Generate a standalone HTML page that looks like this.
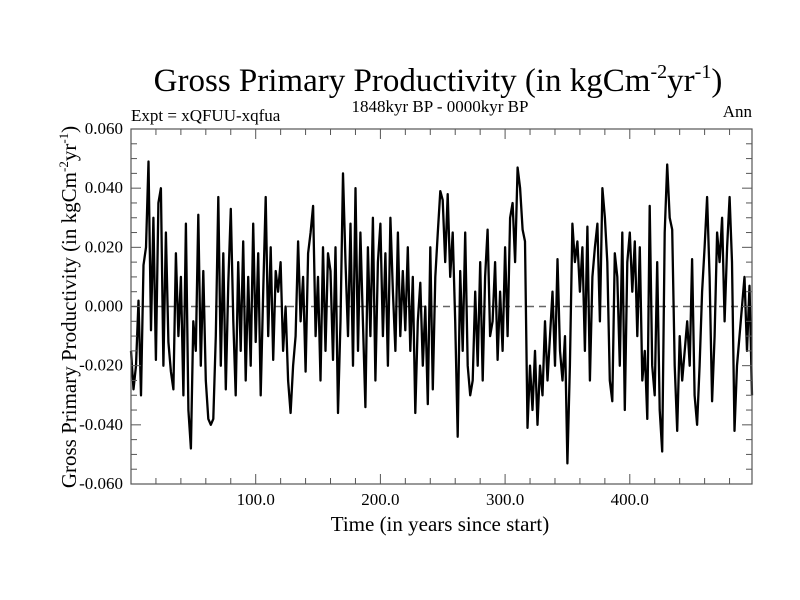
<!DOCTYPE html>
<html><head><meta charset="utf-8"><style>
body{margin:0;background:#fff}
svg{display:block;font-family:"Liberation Serif",serif}
</style></head><body>
<svg id="chart" width="800" height="600">
<text x="438" y="91" text-anchor="middle" font-size="33">Gross Primary Productivity (in kgCm<tspan dy="-13" font-size="20">-2</tspan><tspan dy="13">yr</tspan><tspan dy="-13" font-size="20">-1</tspan><tspan dy="13">)</tspan></text>
<text x="131" y="121" font-size="17">Expt = xQFUU-xqfua</text>
<text x="440" y="112" text-anchor="middle" font-size="17">1848kyr BP - 0000kyr BP</text>
<text x="752" y="117" text-anchor="end" font-size="17">Ann</text>
<g id="axes"></g>
<text x="440" y="531" text-anchor="middle" font-size="21">Time (in years since start)</text>
<text transform="translate(76,307) rotate(-90)" text-anchor="middle" font-size="21">Gross Primary Productivity (in kgCm<tspan dy="-8" font-size="13">-2</tspan><tspan dy="8">yr</tspan><tspan dy="-8" font-size="13">-1</tspan><tspan dy="8">)</tspan></text>
</svg>
<script>
const yTickValues=[-0.06,-0.04,-0.02,0,0.02,0.04,0.06];
const yTickLabels=["-0.060","-0.040","-0.020","0.000","0.020","0.040","0.060"];
const xTickValues=[100,200,300,400];
const xTickLabels=["100.0","200.0","300.0","400.0"];
const yearStep=2;
const gppValues=[
-15,-28,-20,2,-30,14,20,49,-8,30,
-18,35,40,-20,25,-12,-22,-28,18,-10,
10,-30,28,-35,-48,-5,-15,31,-20,12,
-25,-38,-40,-38,-10,37,-20,18,-28,8,
33,-5,-30,15,-15,22,-25,10,-20,28,
-12,18,-30,5,37,-10,20,-18,12,5,
15,-15,0,-25,-36,-20,-10,22,-5,10,
-22,18,25,34,-10,10,-25,20,-15,18,
12,-18,20,-36,-5,45,15,-10,28,-20,
40,-15,25,-5,-34,20,-10,30,-25,15,
28,-10,18,-20,30,5,-15,25,-10,12,
-8,20,-15,10,-36,-5,8,-20,0,-33,
20,-28,10,25,39,36,15,38,10,25,
-5,-44,12,-15,25,-20,-30,-25,5,-20,
15,-25,10,26,-10,-5,15,-18,5,-15,
20,-10,30,35,15,47,40,26,22,-41,
-20,-35,-15,-40,-20,-30,-5,-25,-10,5,
-20,16,-15,-25,-10,-53,-20,28,15,22,
5,20,-15,27,-25,10,20,28,-5,40,
30,15,-25,-32,18,10,-20,25,-35,15,
25,5,22,-10,20,-25,-15,-38,34,-20,
-30,15,-35,-49,25,48,30,26,-20,-42,
-10,-25,-15,-5,-20,16,-30,-40,-20,5,
20,37,10,-32,-10,25,15,30,-5,20,
37,15,-42,-20,-10,0,10,-15,7,-30
].map(v=>v/1000);
const L=131,R=752,T=129,B=484;
const xMax=498;
const xs=t=>L+t*(R-L)/xMax;
const ys=v=>T+(0.06-v)*(B-T)/0.12;
const NS="http://www.w3.org/2000/svg";
const g=document.getElementById('axes');
function mk(tag,attrs){const e=document.createElementNS(NS,tag);for(const k in attrs)e.setAttribute(k,attrs[k]);g.appendChild(e);return e;}
let z=mk('line',{x1:L,x2:R,y1:ys(0),y2:ys(0),stroke:'#666','stroke-width':1.5,'stroke-dasharray':'7,5'});


let d='';
gppValues.forEach((v,i)=>{d+=(i?'L':'M')+xs(i*yearStep).toFixed(1)+','+ys(v).toFixed(1);});
let p=mk('path',{d:d,fill:'none',stroke:'#000','stroke-width':2.3,'stroke-linejoin':'round'});


let f=mk('rect',{x:L,y:T,width:R-L,height:B-T,fill:'none',stroke:'#555','stroke-width':1.2});


for(let k=-12;k<=12;k++){const v=k*0.005;const y=ys(v);const len=(k%4===0)?10:6;
 mk('line',{x1:L,x2:L+len,y1:y,y2:y,stroke:'#555'});mk('line',{x1:R,x2:R-len,y1:y,y2:y,stroke:'#555'});}
yTickValues.forEach((v,i)=>{const t=mk('text',{x:L-8,y:ys(v)+5,'text-anchor':'end','font-size':17});t.textContent=yTickLabels[i];
 
 });
for(let t=20;t<xMax;t+=20){const x=xs(t);const len=(t%100===0)?10:6;
 mk('line',{x1:x,x2:x,y1:B,y2:B-len,stroke:'#555'});mk('line',{x1:x,x2:x,y1:T,y2:T+len,stroke:'#555'});}
xTickValues.forEach((v,i)=>{const t=mk('text',{x:xs(v),y:505,'text-anchor':'middle','font-size':17});t.textContent=xTickLabels[i];
 
 });
</script>
</body></html>
